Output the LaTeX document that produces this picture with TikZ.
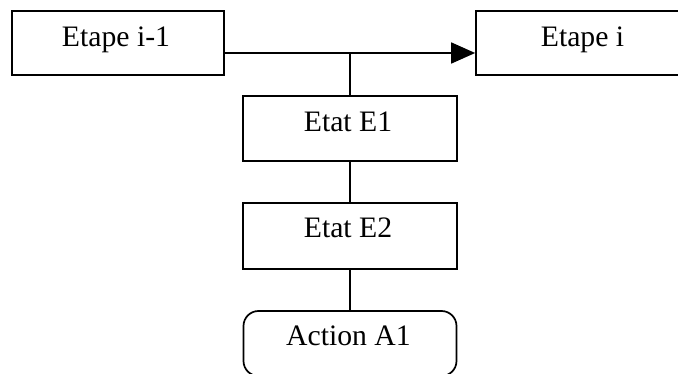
\documentclass[tikz,border=0pt]{standalone}
\usepackage{fontspec}
\setmainfont{Liberation Serif}
\usetikzlibrary{arrows.meta}
\begin{document}
\begin{tikzpicture}[x=1pt,y=-1pt,
  boxst/.style={draw=black,line width=1.7pt,fill=white,inner sep=0pt},
  lbl/.style={anchor=base,inner sep=0pt,font=\fontsize{29.7}{32}\selectfont},
  conn/.style={draw=black,line width=1.7pt}]
\useasboundingbox (0,0) rectangle (678,374);
\fill[white] (0,0) rectangle (678,374);
\clip (0,0) rectangle (678,374);
\node[boxst,minimum width=212pt,minimum height=64pt] (b1) at (118,43) {};
\node[boxst,minimum width=212pt,minimum height=64pt] (b2) at (582,43) {};
\node[boxst,minimum width=214pt,minimum height=65pt] (e1) at (350,128.5) {};
\node[boxst,minimum width=214pt,minimum height=66pt] (e2) at (350,236) {};
\node[boxst,rounded corners=15pt,minimum width=213pt,minimum height=65pt] (a1) at (350,343.5) {};
\node[lbl] (t1) at (116,47) {Etape i-1};
\node[lbl] (t2) at (582.5,47) {Etape i};
\node[lbl] (t3) at (348,132) {Etat E1};
\node[lbl] (t4) at (348,238) {Etat E2};
\node[lbl] (t5) at (348.5,345) {Action A1};
\coordinate (j) at (350,53);
\draw[conn] (b1.east |- j) -- (j);
\draw[conn,-{Triangle[length=24pt,width=21pt]}] (j) -- (b2.west |- j);
\draw[conn] (j) -- (e1.north);
\draw[conn] (e1.south) -- (e2.north);
\draw[conn] (e2.south) -- (a1.north);
\end{tikzpicture}
\end{document}
